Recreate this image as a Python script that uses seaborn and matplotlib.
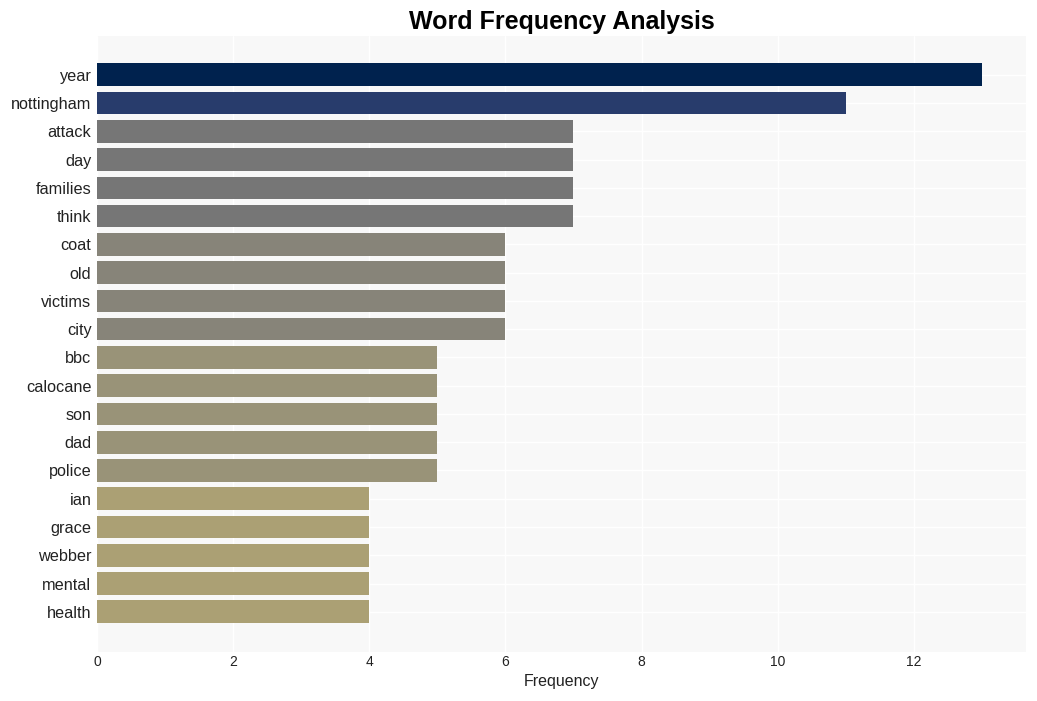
"""Word frequency bar chart"""

import matplotlib

matplotlib.use("Agg")
import matplotlib.pyplot as plt
import seaborn as sns
import pandas as pd

words = [
    "year", "nottingham", "attack", "day", "families", "think", "coat", "old",
    "victims", "city", "bbc", "calocane", "son", "dad", "police", "ian",
    "grace", "webber", "mental", "health",
]
counts = [13, 11, 7, 7, 7, 7, 6, 6, 6, 6, 5, 5, 5, 5, 5, 4, 4, 4, 4, 4]

# colour by frequency
value_colors = {
    13: "#00224e",
    11: "#283c6c",
    7: "#767676",
    6: "#878479",
    5: "#999378",
    4: "#aba074",
}

df = pd.DataFrame({"word": words, "count": counts})

sns.set_style("whitegrid")
plt.rcParams["font.family"] = ["Liberation Sans", "DejaVu Sans"]

fig, ax = plt.subplots(figsize=(10.37, 7.01), dpi=100)
ax.set_facecolor("#f8f8f8")

sns.barplot(
    data=df,
    x="count",
    y="word",
    hue="word",
    palette=[value_colors[c] for c in counts],
    legend=False,
    width=0.8,
    saturation=1,
    linewidth=0,
    ax=ax,
)

ax.set_xlim(0, max(counts) * 1.05)
ax.set_ylim(len(words) - 1 + 1.42, -1.38)
ax.grid(True, color="white", linewidth=1)
for s in ax.spines.values():
    s.set_visible(False)
ax.tick_params(axis="both", length=0)
ax.tick_params(axis="y", labelsize=11.7, colors="#222222", pad=4)
ax.tick_params(axis="x", labelsize=10, colors="#222222", pad=2)
ax.set_xlabel("Frequency", fontsize=11.5, color="#222222", labelpad=4)
ax.set_ylabel("")
ax.set_title("Word Frequency Analysis", fontsize=18, fontweight="bold",
             color="black", pad=5)

plt.subplots_adjust(left=0.0935, right=0.9895, top=0.949, bottom=0.07)
plt.savefig("out.png", dpi=100)
plt.close()
